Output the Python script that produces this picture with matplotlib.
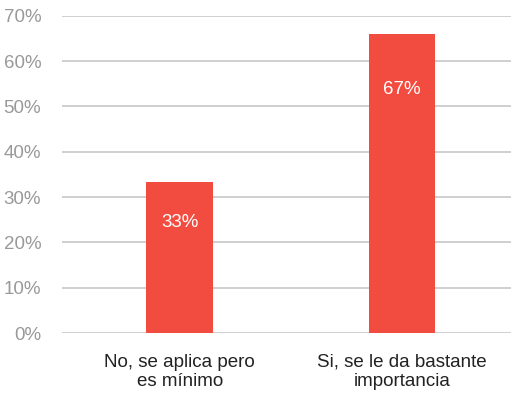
import matplotlib
matplotlib.use("Agg")
import matplotlib.pyplot as plt
from matplotlib.ticker import FuncFormatter

categories = ["No, se aplica pero\nes mínimo", "Si, se le da bastante\nimportancia"]
values = [33.3, 66.0]
value_labels = ["33%", "67%"]
yticks = [0, 10, 20, 30, 40, 50, 60, 70]

plt.rcParams['font.family'] = ['Liberation Sans', 'DejaVu Sans']

fig = plt.figure(figsize=(5.11, 3.94), dpi=100)
ax = fig.add_axes([62/511, (394-333)/394, 449/511, (333-15.7)/394])

x = list(range(len(categories)))
bars = ax.bar(x, values, width=0.30, color="#f24c40", zorder=3)

label_offsets = [-29, -40]
for xi, v, lab, off in zip(x, values, value_labels, label_offsets):
    ax.annotate(lab, (xi, v), xytext=(0, off), textcoords="offset points",
                ha="center", va="center", color="white", fontsize=13.5, zorder=4)

ax.set_ylim(0, 70)
ax.set_xlim(-0.53, 1.49)
ax.set_yticks(yticks)
ax.yaxis.set_major_formatter(FuncFormatter(lambda v, p: f"{int(v)}%"))
ax.grid(axis="y", color="#cccccc", linewidth=1.3, zorder=0)
for s in ax.spines.values():
    s.set_visible(False)
ax.tick_params(axis="y", length=0, pad=15, labelsize=13.5, labelcolor="#999999")
ax.tick_params(axis="x", length=0, pad=15, labelsize=13.5, labelcolor="#222222")
ax.set_xticks(x)
ax.set_xticklabels(categories, linespacing=1.2, multialignment="center")

fig.savefig("out.png", dpi=100)
